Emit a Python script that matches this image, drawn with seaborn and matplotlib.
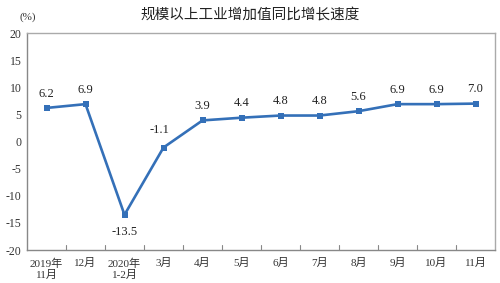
import numpy as np
import pandas as pd
import matplotlib
matplotlib.use("Agg")
import matplotlib.pyplot as plt
import seaborn as sns

categories = ["2019年\n11月", "12月", "2020年\n1-2月", "3月", "4月", "5月",
              "6月", "7月", "8月", "9月", "10月", "11月"]
values = [6.2, 6.9, -13.5, -1.1, 3.9, 4.4, 4.8, 4.8, 5.6, 6.9, 6.9, 7.0]
y_ticks = [-20, -15, -10, -5, 0, 5, 10, 15, 20]
title = "规模以上工业增加值同比增长速度"
unit = "(%)"

sns.set_theme(style="white")
serif = ["Liberation Serif", "Noto Sans CJK SC"]
plt.rcParams["font.family"] = ["Noto Sans CJK SC", "DejaVu Sans"]

df = pd.DataFrame({"idx": np.arange(len(categories)), "val": values})

fig = plt.figure(figsize=(5, 2.83), dpi=100)
ax = fig.add_axes([0.054, 0.1166, 0.936, 0.7664])
color = "#3470b8"
sns.lineplot(data=df, x="idx", y="val", ax=ax, color=color, linewidth=1.9,
             marker="s", markersize=4, markeredgewidth=0, markerfacecolor=color)

ax.set_xlim(-0.5, len(categories) - 0.5)
ax.set_ylim(-20, 20)
ax.set_yticks(y_ticks)
ax.set_yticklabels([str(t) for t in y_ticks], family=serif, fontsize=8.5, color="#333333")
ax.set_xticks(np.arange(len(categories)))
ax.set_xticklabels(categories, family=serif, fontsize=8, color="#333333", linespacing=1.1)
ax.tick_params(axis="x", length=0, pad=6)
ax.tick_params(axis="y", length=0, pad=4)
# inner boundary ticks along the bottom
for b in np.arange(0.5, len(categories) - 1, 1.0):
    ax.plot([b, b], [-20, -19.0], color="#888888", linewidth=0.8, clip_on=False)
ax.set_xlabel("")
ax.set_ylabel("")
for s in ax.spines.values():
    s.set_color("#aaaaaa")
    s.set_linewidth(1.0)
ax.spines["bottom"].set_color("#888888")
ax.spines["left"].set_color("#888888")

for i, v in enumerate(values):
    if v < -10:
        ax.annotate(f"{v:.1f}", (i, v), xytext=(0, -8), textcoords="offset points",
                    ha="center", va="top", family=serif, fontsize=9, color="#222222")
    elif v < 0:
        ax.annotate(f"{v:.1f}", (i, v), xytext=(-3, 8), textcoords="offset points",
                    ha="center", va="bottom", family=serif, fontsize=9, color="#222222")
    else:
        ax.annotate(f"{v:.1f}", (i, v), xytext=(0, 6), textcoords="offset points",
                    ha="center", va="bottom", family=serif, fontsize=9, color="#222222")

fig.text(0.5, 0.945, title, ha="center", va="center", fontsize=10.5,
         fontweight="medium", color="#222222")
fig.text(0.04, 0.94, unit, ha="left", va="center", family=serif, fontsize=8, color="#333333")

fig.savefig("out.png", dpi=100)
